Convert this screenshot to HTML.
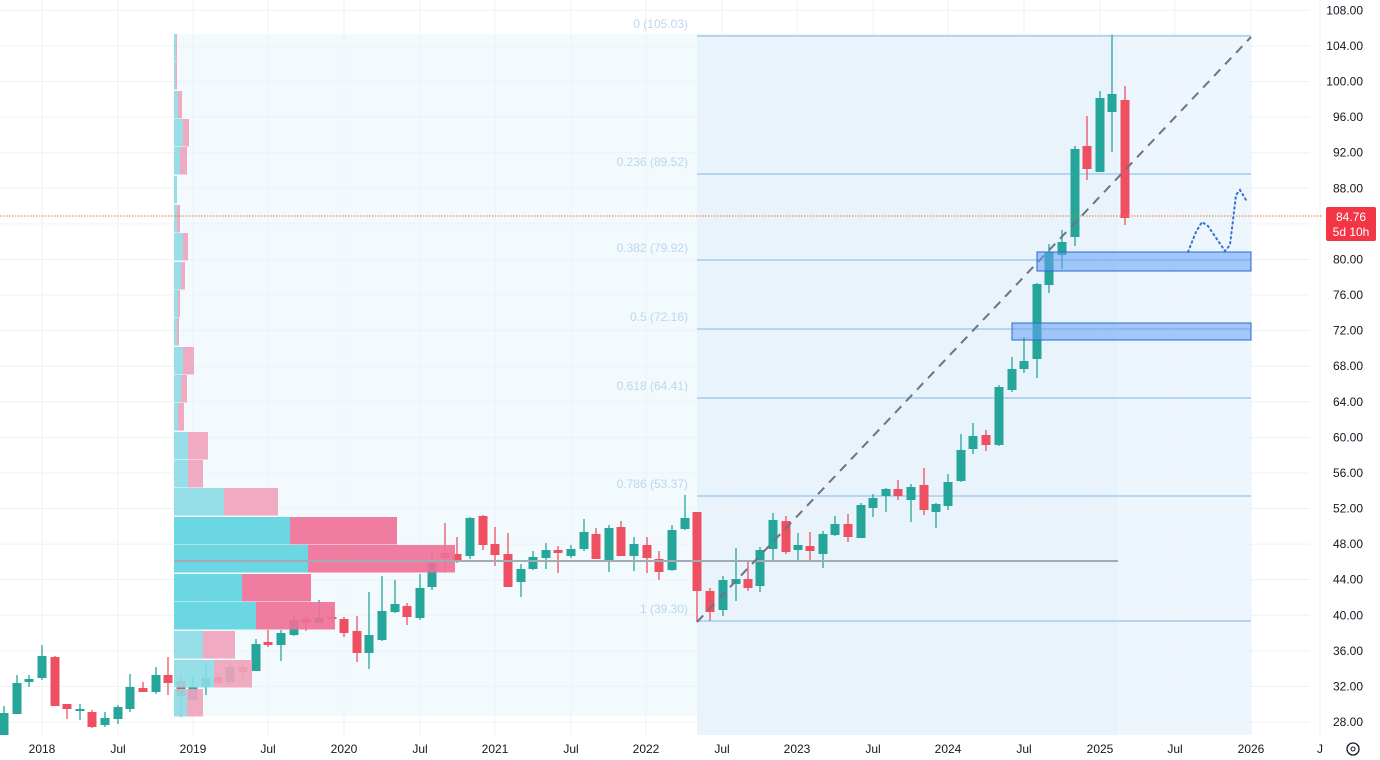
<!DOCTYPE html>
<html><head><meta charset="utf-8"><style>
html,body{margin:0;padding:0;background:#fff;}
svg{display:block;font-family:"Liberation Sans",sans-serif;}
</style></head><body>
<svg id="s" width="1380" height="760" xmlns="http://www.w3.org/2000/svg"></svg>
<script>
const s=document.getElementById('s');let h='';
// backgrounds
h+='<rect x="174" y="34" width="523" height="682" fill="#f3fafd"/>';
h+='<rect x="697" y="34" width="421" height="701" fill="#e8f3fc"/>';
h+='<rect x="1118" y="34" width="133" height="701" fill="#eef6fd"/>';
// grid
const yp=p=>722-(p-28)*8.895;
for(let p=28;p<=108;p+=4){h+=`<line x1="0" x2="1310" y1="${yp(p)}" y2="${yp(p)}" stroke="#eef1f6" stroke-width="1"/>`;}
const xs=[42,118,193,268,344,420,495,571,646,722,797,873,948,1024,1100,1175,1251,1320];
const xl=['2018','Jul','2019','Jul','2020','Jul','2021','Jul','2022','Jul','2023','Jul','2024','Jul','2025','Jul','2026','J'];
xs.forEach(x=>{h+=`<line x1="${x}" x2="${x}" y1="0" y2="735" stroke="#eef1f6"/>`;});
// fib lines
const fib=[[36,'0 (105.03)'],[174,'0.236 (89.52)'],[260,'0.382 (79.92)'],[329,'0.5 (72.16)'],[398,'0.618 (64.41)'],[496,'0.786 (53.37)'],[621,'1 (39.30)']];
fib.forEach(f=>{h+=`<line x1="697" x2="1251" y1="${f[0]}" y2="${f[0]}" stroke="#b5d5f0" stroke-width="2"/>`;
h+=`<text x="688" y="${f[0]-8}" text-anchor="end" font-size="12" fill="#bcd6ee">${f[1]}</text>`;});
// candles [x,top,bottom,high,low,red]
const C=[[4,713,735,706,735,0],[17,683,714,675,714,0],[29,679,682,675,687,0],[42,656,678,645,680,0],[55,657,706,656,706,1],[67,704,709,704,719,1],[80,709,711,704,720,0],[92,712,727,710,728,1],[105,718,725,712,727,0],[118,707,719,705,724,0],[130,687,709,674,712,0],[143,688,692,682,692,1],[156,675,692,667,694,0],[168,675,683,657,695,1],[181,681,696,676,717,1],[193,687,700,677,701,0],[206,678,687,663,695,0],[218,677,683,673,685,1],[230,667,682,663,685,0],[243,667,672,663,679,1],[256,644,671,639,671,0],[268,642,645,630,647,1],[281,633,645,630,661,0],[294,620,635,616,636,0],[306,619,623,614,631,1],[319,618,623,600,623,0],[332,617,619,609,622,1],[344,619,633,617,637,1],[357,631,653,616,662,1],[369,635,653,592,669,0],[382,611,640,576,641,0],[395,604,612,580,613,0],[407,606,617,603,625,1],[420,588,618,574,620,0],[432,563,587,553,590,0],[445,553,558,523,572,1],[457,554,560,537,563,1],[470,518,556,517,559,0],[483,516,545,515,550,1],[495,544,555,527,566,1],[508,554,587,533,587,1],[521,569,582,564,597,0],[533,557,569,551,570,0],[546,550,558,543,569,0],[558,550,553,546,573,1],[571,549,556,545,558,0],[584,532,549,519,551,0],[596,534,559,528,559,1],[609,528,560,525,572,0],[621,527,556,521,556,1],[634,544,556,537,571,0],[647,545,558,537,573,1],[659,559,572,551,580,1],[672,530,570,525,571,0],[685,518,529,495,530,0],[697,512,591,512,622,1],[710,591,612,588,621,1],[723,580,610,576,616,0],[736,579,584,548,601,0],[748,579,588,562,591,1],[760,550,586,547,592,0],[773,520,549,513,560,0],[786,521,552,516,554,1],[798,545,550,533,560,0],[810,546,551,532,560,1],[823,534,554,531,568,0],[835,524,535,516,536,0],[848,524,537,514,542,1],[861,505,538,503,538,0],[873,498,508,494,517,0],[886,489,496,488,512,0],[898,489,496,480,500,1],[911,487,500,484,522,0],[924,485,510,468,515,1],[936,504,512,503,528,0],[948,482,506,474,510,0],[961,450,481,434,482,0],[973,436,449,423,454,0],[986,435,445,430,451,1],[999,387,445,385,446,0],[1012,369,390,357,392,0],[1024,361,369,337,373,0],[1037,284,359,283,378,0],[1049,252,285,244,293,0],[1062,242,255,230,269,0],[1075,149,237,146,246,0],[1087,146,169,116,180,1],[1100,98,172,91,172,0],[1112,94,112,35,152,0],[1125,100,218,86,225,1]];
C.forEach(c=>{const col=c[5]?'#ef5061':'#26a69a';
h+=`<line x1="${c[0]}" x2="${c[0]}" y1="${c[3]}" y2="${c[4]}" stroke="${col}" stroke-width="1.3"/>`;
h+=`<rect x="${c[0]-4.5}" y="${c[1]}" width="9" height="${Math.max(2,c[2]-c[1])}" fill="${col}"/>`;});
// volume profile
const R=[[34,176,177,0],[62,175.5,177,0],[91,178,182,0],[119,183,189,0],[147,180,187,0],[176,177,177,0],[205,177,180,0],[233,183,188,0],[262,181,185,0],[290,178,180,0],[318,177,179,0],[347,183,194,0],[375,181,187,0],[403,178,184,0],[432,188,208,0],[460,188,203,0],[488,224,278,0],[517,290,397,1],[545,308,455,1],[574,242,311,1],[602,256,335,1],[631,203,235,0],[660,214,252,0],[689,187,203,0]];
R.forEach(r=>{const hh=27.5;const cy=r[3]?'#5bd3e0':'#8cdce7',pk=r[3]?'#ef6f97':'#f0a2bd';
h+=`<rect x="174" y="${r[0]}" width="${r[1]-174}" height="${hh}" fill="${cy}" opacity="0.9"/>`;
if(r[2]>r[1])h+=`<rect x="${r[1]}" y="${r[0]}" width="${r[2]-r[1]}" height="${hh}" fill="${pk}" opacity="0.9"/>`;});
// POC line
h+='<line x1="174" x2="1118" y1="561" y2="561" stroke="#a3aab3" stroke-width="2"/>';
// diagonal
h+='<line x1="697" y1="622" x2="1251" y2="37" stroke="#6f737e" stroke-width="2" stroke-dasharray="9 7"/>';
// boxes
h+='<rect x="1037" y="252" width="214" height="19" fill="rgba(100,160,245,0.55)" stroke="#2f66d0" stroke-width="1"/>';
h+='<rect x="1012" y="323" width="239" height="17" fill="rgba(100,160,245,0.55)" stroke="#2f66d0" stroke-width="1"/>';
// dotted path
h+='<polyline points="1188,252 1196,232 1202,222 1208,226 1225,251 1230,245 1236,195 1240,190 1246,200" fill="none" stroke="#3a6fd0" stroke-width="2" stroke-dasharray="1.5 3.5" stroke-linecap="round"/>';
// price line
h+='<line x1="0" x2="1322" y1="216" y2="216" stroke="#e0782e" stroke-width="1" stroke-dasharray="1.5 1.5"/>';
// y axis labels
for(let p=28;p<=108;p+=4){const y=yp(p);if(Math.abs(y-216)<14)continue;h+=`<text x="1363" y="${y+4}" text-anchor="end" font-size="12" fill="#131722">${p.toFixed(2)}</text>`;}
h+='<rect x="1326" y="207" width="50" height="34" rx="2" fill="#f23645"/>';
h+='<text x="1351" y="221" text-anchor="middle" font-size="12" fill="#fff">84.76</text>';
h+='<text x="1351" y="236" text-anchor="middle" font-size="12" fill="#fff">5d 10h</text>';
// x labels
xs.forEach((x,i)=>{h+=`<text x="${x}" y="753" text-anchor="middle" font-size="12" fill="#131722">${xl[i]}</text>`;});
h+='<circle cx="1353" cy="749" r="6" fill="none" stroke="#131722" stroke-width="1.3"/><circle cx="1353" cy="749" r="2" fill="none" stroke="#131722"/>';
s.innerHTML=h;
</script>
</body></html>
